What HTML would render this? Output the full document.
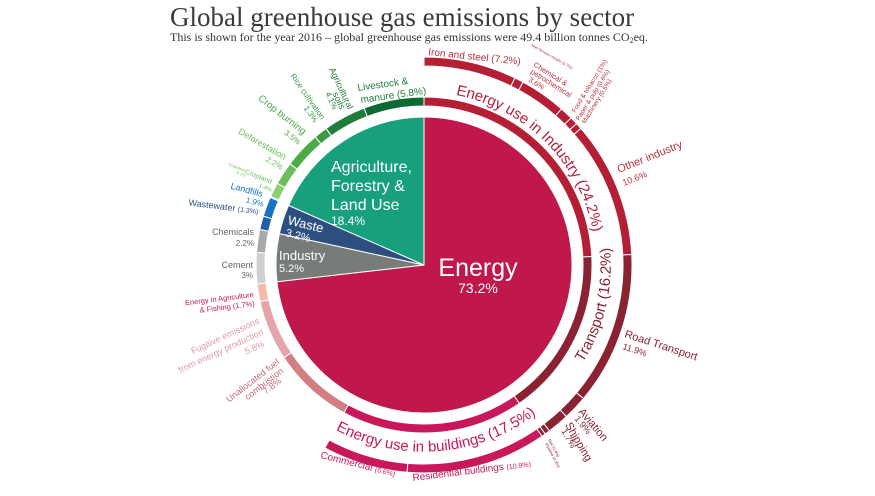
<!DOCTYPE html>
<html><head><meta charset="utf-8"><style>
html,body{margin:0;padding:0;background:#fff;}
svg{display:block;font-family:"Liberation Sans",sans-serif;}
</style></head><body>
<svg id="s" width="875" height="496" viewBox="0 0 875 496" xmlns="http://www.w3.org/2000/svg">
<text x="170" y="26" font-family="Liberation Serif,serif" font-size="27" fill="#3a3a3a">Global greenhouse gas emissions by sector</text>
<text x="170" y="41" font-family="Liberation Serif,serif" font-size="12" fill="#333">This is shown for the year 2016 – global greenhouse gas emissions were 49.4 billion tonnes CO<tspan font-size="8" dy="2">2</tspan><tspan dy="-2">eq.</tspan></text>
<g id="arcs"></g>
<defs>
<path id="pInd" d="M424,92 A172,172 0 0 1 596,264"/>
<path id="pTr" d="M 574.6 374.8 A 186 186 0 0 0 608.1 233.0"/>
<path id="pBd" d="M 327.0 425.0 A 188 188 0 0 0 544.0 408.0"/>
</defs>
<text font-size="15" fill="#b51f35"><textPath href="#pInd" startOffset="50%" text-anchor="middle">Energy use in Industry (24.2%)</textPath></text>
<text font-size="15" fill="#8b2232"><textPath href="#pTr" startOffset="50%" text-anchor="middle">Transport (16.2%)</textPath></text>
<text font-size="15" fill="#c8175a"><textPath href="#pBd" startOffset="50%" text-anchor="middle">Energy use in buildings (17.5%)</textPath></text>

<g fill="#fff" text-anchor="middle">
<text x="478" y="276" font-size="25">Energy</text>
<text x="478" y="293" font-size="14">73.2%</text>
</g>
<g fill="#fff" font-size="16">
<text x="331" y="172">Agriculture,</text>
<text x="331" y="191">Forestry &amp;</text>
<text x="331" y="210">Land Use</text>
<text x="331" y="225" font-size="12">18.4%</text>
<text x="287" y="224" font-size="13" transform="rotate(14 287 224)">Waste</text>
<text x="285" y="236" font-size="11" transform="rotate(14 285 236)">3.2%</text>
<text x="279" y="260" font-size="13">Industry</text>
<text x="279" y="272" font-size="11">5.2%</text>
</g>

<g font-size="9" fill="#b8323e">
<text x="428" y="55" font-size="10" transform="rotate(6 428 55)">Iron and steel (7.2%)</text>
<text x="531" y="46" font-size="4" transform="rotate(30 531 46)">Non-ferrous metals (0.7%)</text>
<text x="533" y="66" font-size="7.5" transform="rotate(32 533 66)">Chemical &amp;</text>
<text x="530" y="73" font-size="7.5" transform="rotate(32 530 73)">petrochemical</text>
<text x="528" y="81" font-size="7.5" transform="rotate(32 528 81)">3.6%</text>
<text x="575" y="113" font-size="6.5" transform="rotate(-58 575 113)">Food &amp; tobacco (1%)</text>
<text x="579" y="121" font-size="6.5" transform="rotate(-58 579 121)">Paper &amp; pulp (0.6%)</text>
<text x="585" y="124" font-size="6.5" transform="rotate(-58 585 124)">Machinery (0.5%)</text>
<text x="619" y="173" font-size="11" transform="rotate(-22 619 173)">Other industry</text>
<text x="624" y="186" font-size="9" transform="rotate(-22 624 186)">10.6%</text>
</g>
<g fill="#8b2232">
<text x="624" y="337" font-size="11" transform="rotate(18 624 337)">Road Transport</text>
<text x="622" y="349" font-size="9" transform="rotate(18 622 349)">11.9%</text>
<text x="578" y="412" font-size="11" transform="rotate(50 578 412)">Aviation</text>
<text x="574" y="419" font-size="9" transform="rotate(50 574 419)">1.9%</text>
<text x="565" y="425" font-size="11" transform="rotate(60 565 425)">Shipping</text>
<text x="561" y="431" font-size="9" transform="rotate(60 561 431)">1.7%</text>
<text x="548" y="440" font-size="4" transform="rotate(62 548 440)">Rail (0.4%)</text>
<text x="545" y="444" font-size="4" transform="rotate(62 545 444)">Pipeline (0.3%)</text>
</g>
<g fill="#c8175a">
<text x="413" y="481" font-size="10" transform="rotate(-7 413 481)">Residential buildings <tspan font-size="7">(10.9%)</tspan></text>
<text x="320" y="458" font-size="10" transform="rotate(14 320 458)">Commercial <tspan font-size="7">(6.6%)</tspan></text>
</g>
<g fill="#c66b78" font-size="9" text-anchor="end">
<text x="280" y="363" transform="rotate(-38 280 363)">Unallocated fuel</text>
<text x="284" y="372" transform="rotate(-38 284 372)">combustion</text>
<text x="282" y="382" transform="rotate(-38 282 382)">7.8%</text>
<text x="260" y="323" fill="#e09aa2" transform="rotate(-25 260 323)">Fugitive emissions</text>
<text x="264" y="334" fill="#e09aa2" transform="rotate(-25 264 334)">from energy production</text>
<text x="265" y="346" fill="#e09aa2" transform="rotate(-25 265 346)">5.8%</text>
<text x="254" y="297" font-size="7.5" fill="#c8175a" transform="rotate(-7 254 297)">Energy in Agriculture</text>
<text x="255" y="306" font-size="7.5" fill="#c8175a" transform="rotate(-7 255 306)">&amp; Fishing (1.7%)</text>
</g>
<g fill="#666" font-size="9" text-anchor="end">
<text x="253" y="268">Cement</text>
<text x="253" y="278" font-size="8">3%</text>
<text x="254" y="235">Chemicals</text>
<text x="254" y="246" font-size="8">2.2%</text>
</g>
<g text-anchor="end" font-size="9" fill="#2d4f7f">
<text x="258" y="214" transform="rotate(7 258 214)">Wastewater <tspan font-size="7">(1.3%)</tspan></text>
<text x="262" y="197" fill="#1a72c4" transform="rotate(15 262 197)">Landfills</text>
<text x="263" y="207" fill="#1a72c4" font-size="8" transform="rotate(15 263 207)">1.9%</text>
</g>
<g text-anchor="end" fill="#6bbf5a" font-size="9">
<text x="271" y="184" font-size="7" transform="rotate(22 271 184)">Cropland</text>
<text x="271" y="192" font-size="6" transform="rotate(22 271 192)">1.4%</text>
<text x="245" y="172" font-size="4" transform="rotate(22 245 172)">Grassland</text>
<text x="245" y="177" font-size="4" transform="rotate(22 245 177)">0.1%</text>
<text x="284" y="160" transform="rotate(30 284 160)">Deforestation</text>
<text x="281" y="170" font-size="8" transform="rotate(30 281 170)">2.2%</text>
<text x="303" y="135" fill="#4daa48" font-size="10" transform="rotate(38 303 135)">Crop burning</text>
<text x="298" y="145" fill="#4daa48" font-size="8" transform="rotate(38 298 145)">3.5%</text>
<text x="321" y="120" fill="#3a9a43" font-size="8" transform="rotate(55 321 120)">Rice cultivation</text>
<text x="314" y="123" fill="#3a9a43" font-size="8" transform="rotate(55 314 123)">1.3%</text>
<text x="348" y="110" fill="#1e7d3a" font-size="9" transform="rotate(65 348 110)">Agricultural</text>
<text x="340" y="110" fill="#1e7d3a" font-size="9" transform="rotate(65 340 110)">soils</text>
<text x="333" y="110" fill="#1e7d3a" font-size="8" transform="rotate(65 333 110)">4.1%</text>
</g>
<g fill="#1e7d3a" font-size="10">
<text x="358" y="91" transform="rotate(-8 358 91)">Livestock &amp;</text>
<text x="361" y="103" transform="rotate(-8 361 103)">manure (5.8%)</text>
</g>
</svg>
<script>
(function(){
var cx=424,cy=265,NS="http://www.w3.org/2000/svg",g=document.getElementById("arcs");
function pt(r,p){var a=p*3.6*Math.PI/180;return [cx+r*Math.sin(a),cy-r*Math.cos(a)];}
function seg(r0,r1,p0,p1,c,gap){
 var d;
 var s=document.createElementNS(NS,"path");
 var a=pt(r1,p0),b=pt(r1,p1),c2=pt(r0,p1),d2=pt(r0,p0),lg=(p1-p0)>50?1:0;
 if(r0==0){d="M"+cx+","+cy+"L"+a+"A"+r1+","+r1+" 0 "+lg+" 1 "+b+"Z";}
 else d="M"+a+"A"+r1+","+r1+" 0 "+lg+" 1 "+b+"L"+c2+"A"+r0+","+r0+" 0 "+lg+" 0 "+d2+"Z";
 s.setAttribute("d",d);s.setAttribute("fill",c);s.setAttribute("stroke","#fff");s.setAttribute("stroke-width",gap);
 g.appendChild(s);
}
function ring(r0,r1,start,list,gap){var p=start;list.forEach(function(x){if(x[1])seg(r0,r1,p,p+x[0],x[1],gap);p+=x[0];});}
ring(0,148,0,[[73.2,"#c0184a"],[5.2,"#787c79"],[3.2,"#2d4f7f"],[18.4,"#17a07b"]],1);
ring(159,168,0,[[24.2,"#b51f35"],[16.2,"#8b2232"],[17.5,"#c8175a"],[7.8,"#d47d85"],[5.8,"#e3a5ab"],[1.7,"#f5b9ae"],
[3,"#cfcfcf"],[2.2,"#aaaaaa"],[1.3,"#1f5fa8"],[1.9,"#1a72c4"],[0.1,"#c9e8b8"],[1.4,"#8dcf6e"],[2.2,"#6bbf5a"],[3.5,"#4daa48"],[1.3,"#3a9a43"],[4.1,"#1e7d3a"],[5.8,"#0d6a35"]],1);
ring(199,208,0,[[7.2,"#b51f35"],[0.7,"#b51f35"],[3.6,"#b51f35"],[1,"#b51f35"],[0.6,"#b51f35"],[0.5,"#b51f35"],[10.6,"#b51f35"],
[11.9,"#8b2232"],[1.9,"#8b2232"],[1.7,"#8b2232"],[0.4,"#8b2232"],[0.3,"#8b2232"],[10.9,"#c8175a"],[6.6,"#c8175a"]],1);
})();
</script>
</body></html>
